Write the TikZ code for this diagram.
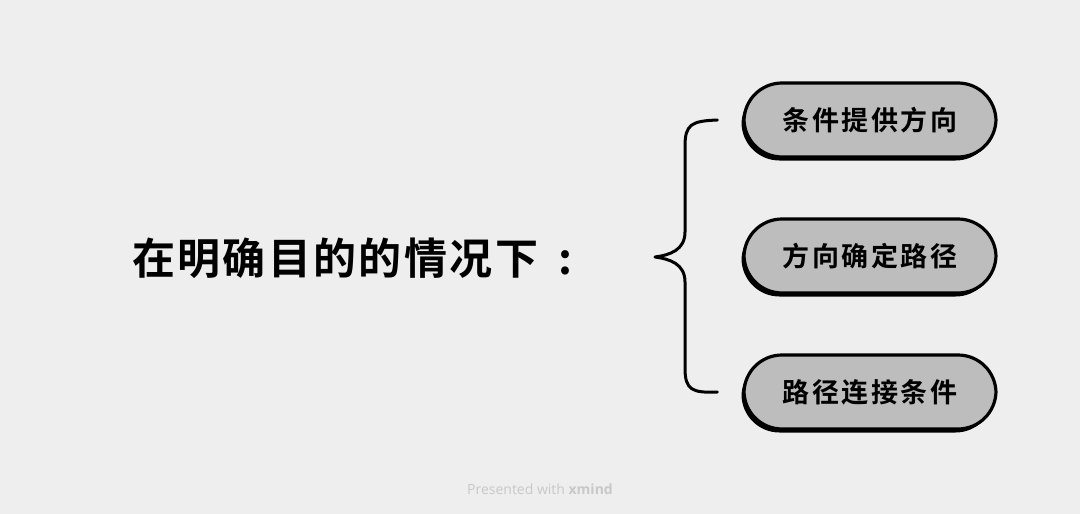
\documentclass[tikz,border=0pt]{standalone}
\usepackage{fontspec}
\usetikzlibrary{shadows}
\newfontfamily\cjkroot{Noto Sans CJK SC}[BoldFont={Noto Sans CJK SC Bold},LetterSpace=5.5]
\newfontfamily\cjkpill{Noto Sans CJK SC}[BoldFont={Noto Sans CJK SC Bold},LetterSpace=9]
\newfontfamily\foot{Open Sans}
\definecolor{bg}{HTML}{EEEEEE}
\definecolor{pillfill}{HTML}{BDBDBD}
\definecolor{foottext}{HTML}{C8C8C8}
\tikzset{
  pill/.style={draw=black, line width=3.2pt, fill=pillfill, rounded corners=38pt,
    minimum width=252pt, minimum height=74pt, inner sep=0pt,
    general shadow={fill=black, shadow xshift=-2.5pt, shadow yshift=-3.5pt},
    font=\cjkpill\bfseries\fontsize{27}{30}\selectfont},
  rootlabel/.style={inner sep=0pt, font=\cjkroot\bfseries\fontsize{43}{48}\selectfont},
  brace/.style={draw=black, line width=3pt, line cap=round, line join=round}
}
\begin{document}
\begin{tikzpicture}[x=1pt,y=-1pt]
\fill[bg] (0,0) rectangle (1080,514);
\useasboundingbox (0,0) rectangle (1080,514);
\node[rootlabel, anchor=west] (root) at (132,258) {在明确目的的情况下\hspace{20pt}:};
\node[pill] (c1) at (870,120) {条件提供方向};
\node[pill] (c2) at (870,256) {方向确定路径};
\node[pill] (c3) at (870,392) {路径连接条件};
\coordinate (b1) at ([xshift=-25pt]c1.west);
\coordinate (b3) at ([xshift=-25pt]c3.west);
\coordinate (tip) at (655,257);
\draw[brace] (b1) .. controls (692,121) and (685,124) .. (685,146) -- (685,232)
  .. controls (685,250) and (670,255) .. (tip)
  .. controls (670,259) and (685,264) .. (685,282) -- (685,368)
  .. controls (685,390) and (692,393) .. (b3);
\node[font=\foot\fontsize{14}{16}\selectfont, text=foottext] (foot) at (540,489) {Presented with \textbf{xmind}};
\end{tikzpicture}
\end{document}
